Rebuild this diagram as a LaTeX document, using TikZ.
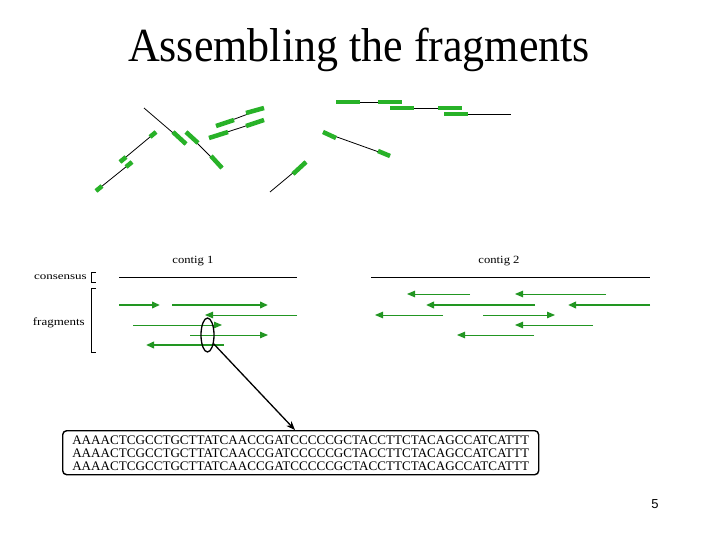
\documentclass[tikz,border=0pt]{standalone}
\usepackage{fontspec}
\setmainfont{Liberation Serif}
\newfontfamily\pagenumfont{Liberation Sans}
\usetikzlibrary{arrows.meta,shapes.geometric,calc}
\definecolor{fgreen}{RGB}{40,178,40}
\definecolor{agreen}{RGB}{34,150,34}
\tikzset{
  blk/.style={draw=black, line width=0.8pt},
  grn/.style={draw=fgreen, line width=4.5pt, line cap=butt},
  arrthick/.style={draw=agreen, line width=2pt, -{Triangle[length=8pt,width=6.5pt]}},
  arrthin/.style={draw=agreen, line width=1pt, -{Triangle[length=8pt,width=6.5pt]}},
  consline/.style={draw=black, line width=1pt},
  brk/.style={draw=black, line width=1pt},
  smalllbl/.style={font=\fontsize{11}{13}\selectfont, inner sep=0pt}
}
\begin{document}
\begin{tikzpicture}[x=1pt,y=-1pt]
\useasboundingbox (0,0) rectangle (720,540);
\fill[white] (0,0) rectangle (720,540);

% title
\node[anchor=base, inner sep=0pt, font=\fontsize{44}{50}\selectfont, yscale=1.08] (title) at (359,62) {Assembling the fragments};

% ---------- scattered fragments ----------
% A
\draw[blk] (96,191) -- (132,162);
\draw[grn] (96,191) -- (102,186);
\draw[grn] (126,167) -- (132,162);
% B
\draw[blk] (120,162) -- (156,132);
\draw[grn] (120,162) -- (126,157);
\draw[grn] (150,137) -- (156,132);
% C
\draw[blk] (144,108) -- (186,144);
\draw[grn] (173,132) -- (186,144);
% D
\draw[blk] (186,132) -- (222,168);
\draw[grn] (186,132) -- (198,143);
\draw[grn] (211,156) -- (222,168);
% E
\draw[blk] (216,126) -- (264,108);
\draw[grn] (216,126) -- (234,120);
\draw[grn] (246,113) -- (264,108);
% F
\draw[blk] (209,138) -- (264,120);
\draw[grn] (209,138) -- (228,132);
\draw[grn] (246,126) -- (264,120);
% G
\draw[blk] (270,192) -- (306,162);
\draw[grn] (293,174) -- (306,162);
% H
\draw[blk] (336,102) -- (402,102);
\draw[grn] (336,102) -- (360,102);
\draw[grn] (378,102) -- (402,102);
% I
\draw[blk] (390,108) -- (462,108);
\draw[grn] (390,108) -- (414,108);
\draw[grn] (438,108) -- (462,108);
% J
\draw[blk] (444,114) -- (511,114);
\draw[grn] (444,114) -- (468,114);
% K
\draw[blk] (323,132) -- (390,156);
\draw[grn] (323,132) -- (336,138);
\draw[grn] (378,151) -- (390,156);

% ---------- contigs ----------
\node[smalllbl, xscale=1.15] (c1) at (193,261) {contig 1};
\node[smalllbl, xscale=1.15] (c2) at (499,261) {contig 2};
\node[smalllbl, anchor=east, font=\fontsize{10}{12}\selectfont, xscale=1.3] (cons) at (87,277) {consensus};
\node[smalllbl, anchor=east, xscale=1.18] (frag) at (85,323) {fragments};

\draw[brk] (96,272) -- (91,272) -- (91,282) -- (96,282);
\draw[brk] (96,288) -- (91,288) -- (91,352) -- (96,352);

\draw[consline] (119,277) -- (297,277);
\draw[consline] (371,277) -- (650,277);

% contig 1 fragments
\draw[arrthick] (119,305) -- (160,305);
\draw[arrthick] (172,305) -- (268,305);
\draw[arrthin] (297,315) -- (205,315);
\draw[arrthin] (133,325) -- (222,325);
\draw[arrthin] (190,335) -- (268,335);
\draw[arrthick] (224,345) -- (146,345);

% contig 2 fragments
\draw[arrthin] (470,294) -- (407,294);
\draw[arrthin] (606,294) -- (515,294);
\draw[arrthick] (535,305) -- (426,305);
\draw[arrthick] (650,305) -- (568,305);
\draw[arrthin] (443,315) -- (375,315);
\draw[arrthin] (483,315) -- (555,315);
\draw[arrthin] (593,325) -- (515,325);
\draw[arrthin] (534,335) -- (457,335);

% ellipse and zoom arrow
\node[draw, ellipse, line width=1.3pt, minimum width=13pt, minimum height=34pt, inner sep=0pt] (ell) at (207.5,335) {};

\node[draw, line width=1.4pt, rounded corners=4pt, minimum width=476pt, minimum height=44pt, anchor=north west, inner sep=0pt] (seq) at (62,430) {};
\node[align=left, inner sep=0pt, font=\fontsize{13.1}{13.4}\selectfont] (seqtxt) at ($(seq.center)+(0,0.5)$) {AAAACTCGCCTGCTTATCAACCGATCCCCCGCTACCTTCTACAGCCATCATTT\\AAAACTCGCCTGCTTATCAACCGATCCCCCGCTACCTTCTACAGCCATCATTT\\AAAACTCGCCTGCTTATCAACCGATCCCCCGCTACCTTCTACAGCCATCATTT};

\coordinate (tip) at ($(seq.north west)+(233,0)$);
\draw[line width=1.3pt, -{Stealth[length=9pt,width=7pt]}] (ell.-55) -- (tip);

% page number
\node[inner sep=0pt, font=\pagenumfont\fontsize{13}{15}\selectfont] (pnum) at (655,504) {5};
\end{tikzpicture}
\end{document}
